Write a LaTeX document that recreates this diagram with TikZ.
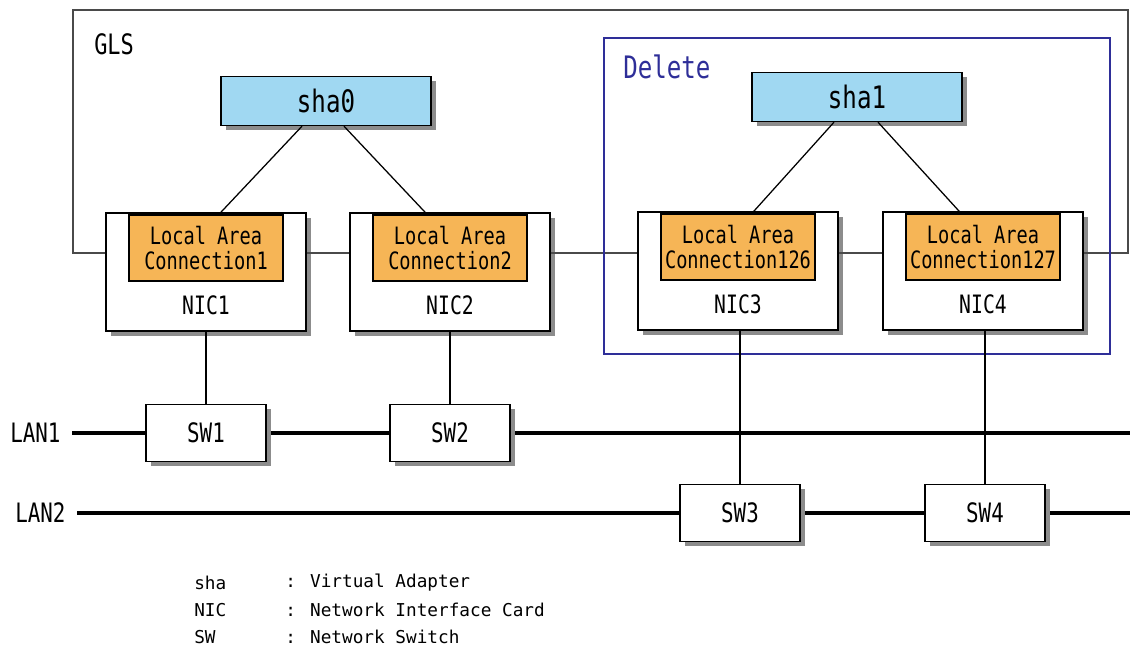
\documentclass[tikz,border=0pt]{standalone}
\usepackage{fontspec}
\newfontfamily\diagfont[FakeStretch=0.78]{DejaVu Sans Mono}
\newfontfamily\legendfont{DejaVu Sans Mono}
\usetikzlibrary{shadows,calc,backgrounds}
\definecolor{shablue}{HTML}{A0D8F2}
\definecolor{lacorange}{HTML}{F6B556}
\definecolor{delnavy}{HTML}{2E2E98}
\definecolor{glsgray}{HTML}{4A4A4A}

\tikzset{
  boxshadow/.style={drop shadow={shadow xshift=3.5pt, shadow yshift=-3.5pt, fill=black!45, opacity=1}},
  shabox/.style={draw, line width=1pt, fill=shablue, boxshadow, minimum width=5.25cm, minimum height=1.225cm, inner sep=0pt, font=\diagfont\fontsize{22}{24}\selectfont},
  nicbox/.style={draw, line width=1pt, fill=white, boxshadow, minimum width=5cm, minimum height=2.95cm, inner sep=0pt},
  lacbox/.style={draw, line width=1pt, fill=lacorange, minimum width=3.85cm, minimum height=1.65cm, inner sep=0pt, align=center, font=\diagfont\fontsize{17}{18}\selectfont},
  swbox/.style={draw, line width=1pt, fill=white, boxshadow, minimum width=3cm, minimum height=1.425cm, inner sep=0pt, font=\diagfont\fontsize{19}{20}\selectfont},
  niclabel/.style={inner sep=0pt, font=\diagfont\fontsize{18}{20}\selectfont},
  lanlabel/.style={anchor=east, inner xsep=8pt, inner ysep=0pt, font=\diagfont\fontsize{19}{20}\selectfont},
  lanline/.style={line width=3.5pt},
  glsline/.style={draw=glsgray, line width=1.1pt},
  thinline/.style={line width=0.9pt},
  legendtext/.style={anchor=west, inner sep=0pt, font=\legendfont\fontsize{12.6}{15}\selectfont},
}

\begin{document}
\begin{tikzpicture}[x=0.025cm, y=-0.025cm]
    \useasboundingbox (0,0) rectangle (1136,648);
    % Virtual adapters
    \node[shabox] (sha0) at (326,101) {sha0};
    \node[shabox] (sha1) at (857,97) {sha1};
    % Network interface cards
    \node[nicbox] (nic1) at (206,272) {};
    \node[nicbox] (nic2) at (450,272) {};
    \node[nicbox] (nic3) at (738,271) {};
    \node[nicbox] (nic4) at (983,271) {};
    \node[niclabel] (nic1name) at ($(nic1.south)+(0,-26)$) {NIC1};
    \node[niclabel] (nic2name) at ($(nic2.south)+(0,-26)$) {NIC2};
    \node[niclabel] (nic3name) at ($(nic3.south)+(0,-26)$) {NIC3};
    \node[niclabel] (nic4name) at ($(nic4.south)+(0,-26)$) {NIC4};
    % Local area connections
    \node[lacbox, anchor=north] (lac1) at ($(nic1.north)+(0,2)$) {Local Area\\Connection1};
    \node[lacbox, anchor=north] (lac2) at ($(nic2.north)+(0,2)$) {Local Area\\Connection2};
    \node[lacbox, anchor=north] (lac3) at ($(nic3.north)+(0,2)$) {Local Area\\Connection126};
    \node[lacbox, anchor=north] (lac4) at ($(nic4.north)+(0,2)$) {Local Area\\Connection127};
    % Adapter to connection lines
    \draw[thinline] ($(sha0.south)+(-24,0)$) -- ($(lac1.north)+(13,0)$);
    \draw[thinline] ($(sha0.south)+(18,0)$) -- ($(lac2.north)+(-23,0)$);
    \draw[thinline] ($(sha1.south)+(-23,0)$) -- ($(lac3.north)+(14,0)$);
    \draw[thinline] ($(sha1.south)+(21,0)$) -- ($(lac4.north)+(-22,0)$);
    % GLS outline
    \coordinate (glsy) at (0,253);
    \coordinate (glstl) at (73,10);
    \coordinate (glstr) at (1128,10);
    \draw[glsline] (nic1.west |- glsy) -| (glstl) -- (glstr) |- (nic4.east |- glsy);
    \draw[glsline] (nic1.east |- glsy) -- (nic2.west |- glsy);
    \draw[glsline] (nic2.east |- glsy) -- (nic3.west |- glsy);
    \draw[glsline] (nic3.east |- glsy) -- (nic4.west |- glsy);
    \node[anchor=west, inner sep=0pt, font=\diagfont\fontsize{20}{22}\selectfont] (gls) at (94,44) {GLS};
    % Delete area
    \draw[delnavy, line width=2pt] (604,38) rectangle (1110,354);
    \node[anchor=west, inner sep=0pt, text=delnavy, font=\diagfont\fontsize{22}{24}\selectfont] (delete) at (623,67) {Delete};
    % LANs and switches
    \node[lanlabel] (lan1) at (72,433) {LAN1};
    \node[lanlabel] (lan2) at (77,513) {LAN2};
    \coordinate (lan1end) at (1130,433);
    \coordinate (lan2end) at (1130,513);
    \node[swbox] (sw1) at (nic1 |- lan1) {SW1};
    \node[swbox] (sw2) at (nic2 |- lan1) {SW2};
    \node[swbox] (sw3) at ($(nic3 |- lan2)+(2,0)$) {SW3};
    \node[swbox] (sw4) at ($(nic4 |- lan2)+(2,0)$) {SW4};
    \begin{scope}[on background layer]
        \draw[lanline] (lan1.east) -- (lan1end);
        \draw[lanline] (lan2.east) -- (lan2end);
    \end{scope}
    \draw[thinline] (nic1.south) -- (sw1.north);
    \draw[thinline] (nic2.south) -- (sw2.north);
    \draw[thinline] (nic3.south -| sw3.north) -- (sw3.north);
    \draw[thinline] (nic4.south -| sw4.north) -- (sw4.north);
    % Legend
    \node[legendtext] (legsha) at (194,583) {sha};
    \node[legendtext] (legshatext) at (285,583) {: Virtual Adapter};
    \node[legendtext] (legnic) at (194,610) {NIC};
    \node[legendtext] (legnictext) at (285,610) {: Network Interface Card};
    \node[legendtext] (legsw) at (194,637) {SW};
    \node[legendtext] (legswtext) at (285,637) {: Network Switch};
\end{tikzpicture}
\end{document}
